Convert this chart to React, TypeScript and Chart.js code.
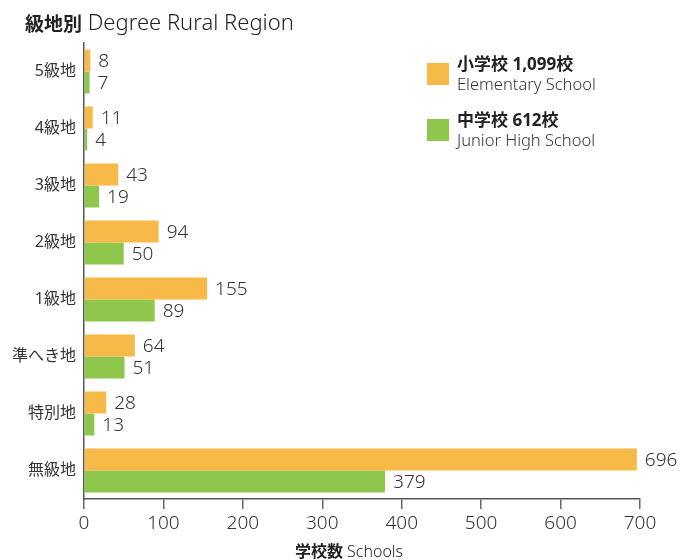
import { useEffect, useRef } from "react";
import { Chart, registerables } from "chart.js";

Chart.register(...registerables);

const categories = ["5級地", "4級地", "3級地", "2級地", "1級地", "準へき地", "特別地", "無級地"];
const elementary = [8, 11, 43, 94, 155, 64, 28, 696];
const juniorHigh = [7, 4, 19, 50, 89, 51, 13, 379];
const seriesNamesJa = ["小学校 1,099校", "中学校 612校"];
const seriesNamesEn = ["Elementary School", "Junior High School"];
const seriesColors = ["#F7BA48", "#8FC64C"];
const titleBold = "級地別";
const titleRest = " Degree Rural Region";
const xTitleBold = "学校数";
const xTitleRest = " Schools";

const FF = '"Noto Sans", "Noto Sans CJK JP", sans-serif';
const FJ = '"Noto Sans CJK JP", "Noto Sans", sans-serif';

const labelPlugin = {
  id: "valueLabels",
  afterDatasetsDraw(chart: any) {
    const ctx = chart.ctx;
    ctx.save();
    ctx.font = `300 19px ${FF}`;
    ctx.fillStyle = "#333";
    ctx.textAlign = "left";
    ctx.textBaseline = "middle";
    chart.data.datasets.forEach((ds: any, di: number) => {
      const meta = chart.getDatasetMeta(di);
      meta.data.forEach((el: any, i: number) => {
        ctx.fillText(String(ds.data[i]), el.x + 8, el.y + 1);
      });
    });
    ctx.restore();
  },
};

const decorPlugin = {
  id: "decor",
  afterDraw(chart: any) {
    const ctx = chart.ctx;
    ctx.save();
    ctx.textBaseline = "middle";
    ctx.textAlign = "left";
    ctx.fillStyle = "#222";
    // title
    ctx.font = `bold 19px ${FJ}`;
    ctx.fillText(titleBold, 25, 24);
    const w = ctx.measureText(titleBold).width;
    ctx.font = `300 22px ${FF}`;
    ctx.fillText(titleRest, 25 + w, 24);
    // x axis title
    ctx.font = `bold 16px ${FJ}`;
    const w1 = ctx.measureText(xTitleBold).width;
    ctx.font = `300 16px ${FF}`;
    const w2 = ctx.measureText(xTitleRest).width;
    const sx = 349 - (w1 + w2) / 2;
    ctx.font = `bold 16px ${FJ}`;
    ctx.fillText(xTitleBold, sx, 551);
    ctx.font = `300 16px ${FF}`;
    ctx.fillText(xTitleRest, sx + w1, 552);
    // legend
    for (let i = 0; i < 2; i++) {
      const y0 = 63 + i * 56;
      ctx.fillStyle = seriesColors[i];
      ctx.fillRect(427, y0, 22, 22);
      ctx.fillStyle = "#222";
      ctx.font = `bold 17px ${FF}`;
      ctx.fillText(seriesNamesJa[i], 457, y0 + 2);
      ctx.fillStyle = "#333";
      ctx.font = `300 16.5px ${FF}`;
      ctx.fillText(seriesNamesEn[i], 457, y0 + 22);
    }
    ctx.restore();
  },
};

export default function App() {
  const ref = useRef<HTMLCanvasElement>(null);
  useEffect(() => {
    if (!ref.current) return;
    const chart = new Chart(ref.current, {
      type: "bar",
      data: {
        labels: categories,
        datasets: [
          { label: seriesNamesJa[0], data: elementary, backgroundColor: seriesColors[0] },
          { label: seriesNamesJa[1], data: juniorHigh, backgroundColor: seriesColors[1] },
        ],
      },
      options: {
        indexAxis: "y",
        responsive: false,
        devicePixelRatio: 1,
        animation: false,
        categoryPercentage: 0.772,
        barPercentage: 1,
        layout: { padding: { left: 0, right: 41, top: 43, bottom: 0 } },
        plugins: {
          legend: { display: false },
          tooltip: { enabled: false },
          title: { display: false },
        },
        scales: {
          x: {
            min: 0,
            max: 700,
            ticks: { stepSize: 100, color: "#333", font: { size: 19, family: FF, weight: "300" }, padding: 3 },
            grid: { drawOnChartArea: false, drawTicks: true, tickLength: 10, color: "#666", lineWidth: 1.5 },
            border: { color: "#555", width: 1.5 },
            afterFit: (s: any) => {
              s.height = 61;
            },
          },
          y: {
            ticks: { color: "#333", font: { size: 16, family: FF }, padding: 8 },
            grid: { drawOnChartArea: false, drawTicks: false },
            border: { color: "#555", width: 1.5 },
            afterFit: (s: any) => {
              s.width = 84;
            },
          },
        },
      } as any,
      plugins: [labelPlugin, decorPlugin],
    });
    return () => chart.destroy();
  }, []);
  return (
    <div style={{ position: "fixed", left: 0, top: 0, width: 681, height: 560, background: "#fff" }}>
      <canvas ref={ref} width={681} height={560} />
    </div>
  );
}
